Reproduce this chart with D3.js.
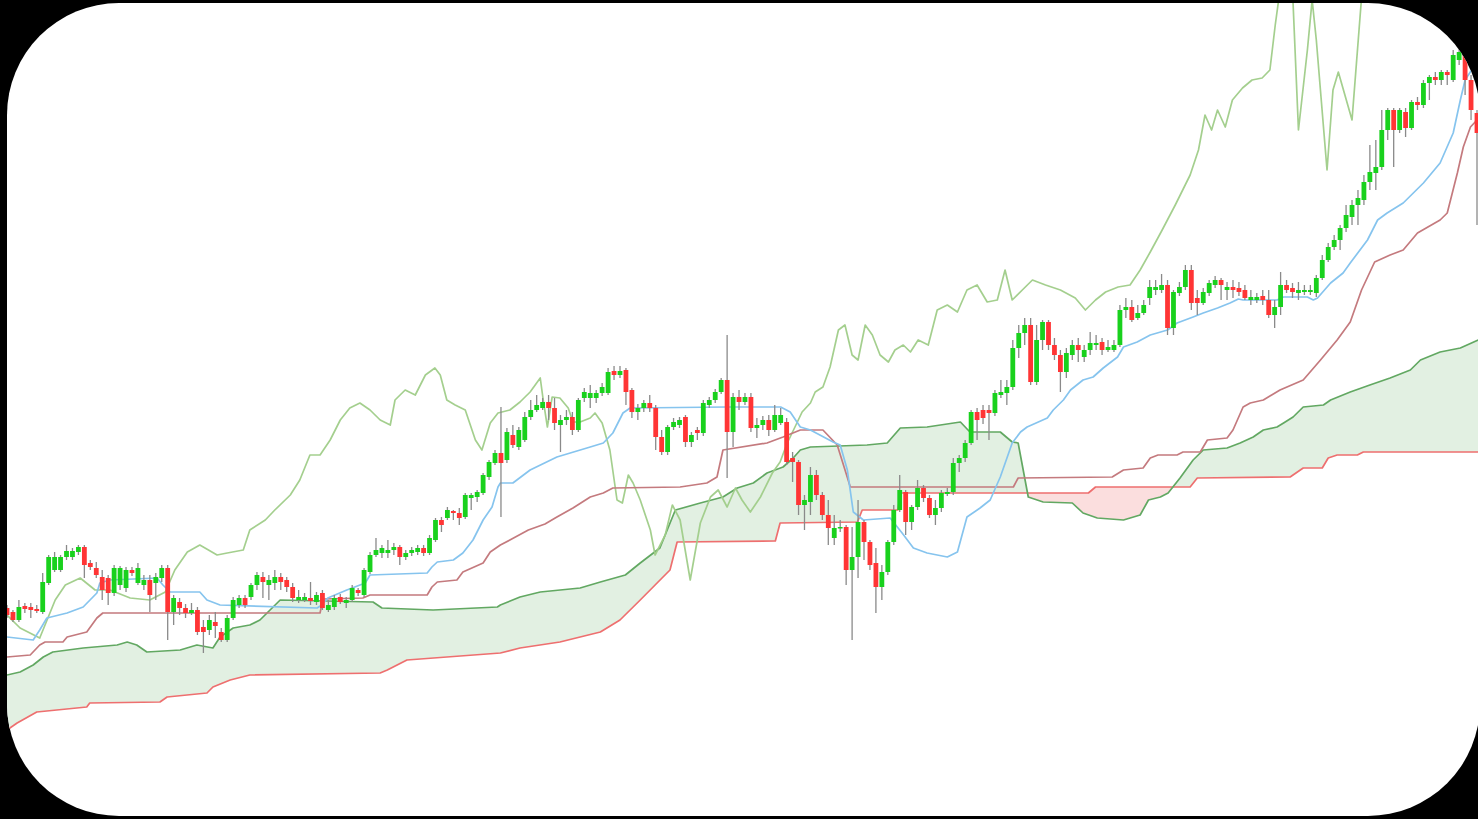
<!DOCTYPE html>
<html><head><meta charset="utf-8">
<script src="https://cdn.jsdelivr.net/npm/d3@7"></script>
<style>html,body{margin:0;padding:0;background:#000;overflow:hidden}</style>
</head><body>
<svg id="chart" width="1478" height="819"></svg>
<script>
// ---- candle data (price units) ----
const openP = [
192,188,180,194,193,191,188,217,230,230,
243,243,248,253,237,232,223,222,207,215,
212,230,217,215,220,217,222,232,188,198,
192,187,190,173,170,178,168,160,182,195,
202,203,215,223,215,217,223,220,213,200,
200,202,198,207,190,193,203,197,200,210,
205,228,245,247,247,250,253,243,247,248,
252,247,260,280,282,289,287,283,302,303,
307,323,337,347,340,365,353,360,383,390,
392,398,392,375,380,383,370,402,402,402,
407,407,429,425,430,410,388,392,397,392,
363,348,373,375,383,358,370,367,395,400,
408,420,368,403,398,403,372,375,380,370,
377,378,342,338,295,298,325,305,285,262,
272,273,230,243,278,258,237,213,228,258,
290,308,278,293,312,302,285,292,306,308,
337,342,357,388,390,390,387,405,407,413,
452,467,475,418,460,478,455,445,428,445,
455,443,450,455,458,450,450,455,490,493,
482,487,502,510,510,515,472,507,513,530,
502,497,507,515,520,510,513,512,510,500,
500,504,500,485,493,515,512,507,508,508,
507,522,540,553,560,572,583,595,600,618,
627,633,670,690,670,688,672,698,695,717,
723,720,728,720,740,745,720,687];
const closeP = [
185,180,193,191,190,189,218,243,243,243,
249,249,253,235,233,225,210,207,232,232,
230,227,232,220,205,223,232,188,202,192,
187,190,168,168,180,174,160,182,200,202,
195,215,225,218,220,223,218,213,202,203,
203,199,205,192,195,202,198,200,212,207,
230,245,250,252,250,253,243,247,250,252,
247,262,280,275,290,287,282,305,305,308,
325,338,347,337,368,355,370,383,390,395,
398,392,377,380,383,370,400,408,407,407,
413,428,425,429,408,388,392,397,392,363,
348,373,378,380,358,365,367,397,400,408,
420,368,403,398,403,372,375,380,370,385,
385,338,338,295,300,325,305,285,272,272,
273,230,243,278,258,235,213,228,258,290,
310,278,293,312,302,285,292,307,308,337,
342,357,388,380,382,387,407,408,413,452,
467,475,418,460,478,455,445,428,447,455,
450,450,457,457,450,453,455,490,493,480,
487,495,513,513,515,472,508,513,530,497,
497,508,517,520,515,513,510,508,502,503,
503,500,485,493,515,510,508,510,510,510,
522,540,553,560,572,585,595,602,618,628,
633,670,690,670,690,672,698,695,717,723,
720,728,725,745,748,720,690,667];
const highP = [
195,190,200,197,197,195,227,245,248,245,
255,252,255,255,240,238,230,225,235,234,
233,233,237,225,225,227,235,235,205,202,
196,197,193,180,185,188,172,185,203,205,
205,217,228,228,225,230,227,223,217,210,
207,218,208,210,200,205,206,203,215,212,
232,248,262,255,260,257,255,250,253,255,
255,265,282,283,293,290,292,307,307,310,
327,340,350,393,372,375,373,388,400,405,
402,405,402,385,390,388,402,412,415,410,
417,432,434,434,432,412,396,400,405,395,
370,375,382,383,385,368,373,400,403,411,
422,465,407,410,407,407,382,384,385,395,
392,382,348,340,305,333,330,308,300,285,
280,275,273,300,280,260,252,235,260,295,
325,310,295,320,315,305,300,310,312,342,
345,360,390,392,395,395,410,420,420,460,
475,482,482,475,480,480,462,450,452,460,
462,455,468,465,462,460,460,495,502,500,
495,500,520,520,526,520,510,518,535,535,
510,512,520,524,522,518,520,518,515,510,
507,510,510,500,528,520,517,518,515,515,
525,545,557,565,575,595,600,610,625,655,
660,690,692,692,692,692,700,703,720,725,
728,730,730,750,755,750,725,690];
const lowP = [
182,178,178,187,182,187,186,215,228,228,
240,240,245,222,230,222,200,195,204,210,
208,224,215,210,188,200,218,160,175,185,
182,185,165,147,165,162,158,158,180,192,
192,200,210,202,200,210,210,208,198,197,
198,195,195,190,188,190,196,192,198,204,
203,226,243,242,242,245,235,240,244,245,
244,245,258,268,280,280,275,281,290,298,
305,320,335,283,337,352,350,358,380,388,
390,380,370,348,375,365,368,398,392,397,
404,405,420,422,395,382,380,388,388,350,
345,345,370,372,353,353,360,364,392,397,
406,322,353,390,395,368,362,370,364,368,
375,335,318,285,270,285,300,280,255,255,
268,215,160,222,240,230,187,200,225,255,
288,265,270,290,298,282,275,288,304,305,
328,338,355,360,376,360,384,402,395,410,
442,455,415,415,450,450,440,408,422,440,
438,438,445,450,445,448,448,453,482,478,
480,485,495,505,507,465,465,504,510,490,
485,495,504,512,500,500,502,504,500,495,
497,495,482,472,485,507,502,500,505,505,
503,520,538,550,550,568,575,575,595,610,
610,630,660,633,667,663,670,690,692,700,
715,715,715,718,735,705,680,575];

// ---- Ichimoku lines: [bar index, price] ----
const tenkan = [[0,163],[4.4,160],[5.5,170],[6.7,182],[10.1,187],[12.8,193],[15.1,207],[15.6,217],[17.3,220],[25.2,222],[26.2,215],[27.4,208],[32.4,208],[33.6,200],[35.8,195],[52.1,192],[52.9,195],[53.9,202],[57.1,210],[60.2,217],[61,225],[70.6,227],[71.4,233],[72.3,238],[75,240],[76.6,247],[78.3,260],[80,280],[81.5,293],[82.5,313],[82.9,317],[85,317],[87.9,330],[92.4,343],[98,353],[100.2,357],[101.8,367],[103.5,387],[104.7,392],[121,393],[130,393],[131.6,388],[133.3,373],[135,370],[138.8,358],[140,355],[141.2,330],[142.2,288],[143.9,280],[148.4,282],[150.4,267],[152.3,252],[154.6,247],[158,243],[159.7,248],[161.3,283],[163.5,292],[165.2,300],[166.9,323],[168.9,357],[170.3,368],[171.4,373],[174.8,382],[175.8,390],[177.5,400],[178.7,410],[180.8,420],[182.5,423],[184.2,432],[186.6,443],[187.6,453],[189.9,458],[192.1,465],[195,470],[196.6,477],[199.3,483],[201,487],[203.4,492],[205.5,497],[206.9,501],[207.7,500],[213.4,500],[214.5,503],[218.5,503],[219.5,500],[220.2,502],[222.4,517],[224.5,527],[225.7,537],[228.6,560],[230.3,580],[231.9,587],[234.6,597],[238,617],[240.8,637],[243,667],[244.2,700],[245,720],[247.2,740]];
const kijun = [[0,143],[3.9,145],[5.5,155],[6.4,158],[9.4,158],[10.1,163],[13.4,168],[15.1,182],[16.1,187],[52.6,187],[53.1,201],[59.8,202],[61,205],[70.6,205],[71.4,213],[72.3,218],[75.6,220],[76.6,228],[80,237],[81.2,248],[82.9,255],[84.5,260],[87.6,270],[90.4,276],[92.4,283],[95.1,292],[98,303],[100.2,307],[101.8,312],[113.1,313],[117.6,317],[119.3,323],[120.3,350],[127.7,357],[130.4,363],[133.3,370],[137.1,370],[139.5,355],[141.7,313],[169.1,313],[169.9,322],[185.7,323],[187.6,330],[190.9,332],[192.1,342],[193.4,345],[196.6,345],[197.6,348],[200.5,348],[201.7,360],[205,362],[206,370],[207.7,393],[208.9,397],[211.1,400],[213.9,410],[217.8,420],[220.7,440],[223.5,460],[225.7,478],[227.6,510],[229.8,538],[232.4,545],[234.6,550],[237,567],[240.8,580],[242,587],[243.7,627],[244.7,653],[245.9,673],[247,680]];
const senkouA = [[0,125],[2.2,128],[4.4,135],[6.1,143],[7.7,148],[12.8,152],[18.5,155],[20.2,158],[21.8,155],[23.5,148],[29.1,150],[31.9,155],[34.6,152],[35.8,163],[38,172],[40.8,175],[42.5,180],[45.9,200],[61.5,198],[63,192],[71.6,190],[82.4,193],[82.9,195],[86.2,203],[89.6,208],[96.3,212],[99.7,218],[103.9,225],[106.4,237],[109.7,252],[112.3,290],[116.5,297],[120.3,303],[122.7,312],[125.4,317],[127.7,327],[130.4,333],[132.1,342],[133.3,350],[135,353],[144.5,355],[147.9,357],[150.1,372],[154.6,373],[160.2,378],[161.8,368],[166.9,368],[168.9,358],[169.9,357],[171.6,303],[174.1,298],[179,297],[180.8,287],[183.2,282],[187.6,280],[190.4,285],[191.8,300],[193.8,303],[195.1,307],[197.1,322],[199.3,340],[201,350],[205,352],[207.2,357],[209.4,363],[211.1,370],[213.4,373],[214.5,377],[216.1,383],[217.8,393],[221.2,395],[222.4,400],[225.7,408],[229,415],[232.4,422],[235.8,430],[237.5,440],[240.8,448],[244.2,452],[247.2,460]];
const senkouB = [[0,70],[1.7,77],[5,88],[13.4,93],[13.9,97],[25.7,98],[26.9,103],[33.6,107],[34.6,113],[37.5,120],[40.8,125],[62.7,127],[63.9,130],[67.2,140],[82.9,147],[86.2,152],[92.9,158],[99.7,168],[103,180],[106.4,200],[108.9,215],[111.4,230],[112.6,258],[129.1,259],[129.9,277],[142.9,278],[143.7,290],[149.7,290],[150.1,307],[181.7,307],[182.9,313],[198.8,313],[200,322],[215.6,323],[217.8,332],[221,332],[222,342],[223.5,345],[226.9,345],[227.9,348],[247.2,348]];
const chikou = [[0,185],[2.2,172],[5.5,162],[8.1,200],[9.8,215],[12.3,222],[14.8,210],[17.3,210],[20.7,202],[24,200],[26.6,208],[28.2,230],[30.3,248],[32.4,255],[35.3,245],[37,247],[39.7,250],[40.8,270],[43.4,280],[45,290],[47.6,305],[49.2,320],[50.9,345],[52.6,345],[54.3,360],[56,380],[57.6,392],[59.3,397],[61,390],[62.7,380],[64.4,375],[65.2,400],[66.9,410],[68.6,405],[70.3,425],[71.9,432],[72.8,425],[73.9,400],[75.3,395],[77,390],[78.7,360],[79.8,350],[81.2,377],[82.5,387],[84.5,390],[86.2,398],[87.9,408],[89.6,422],[90.1,400],[90.8,373],[91.6,403],[92.9,402],[94.3,392],[95.1,378],[96.3,378],[98,382],[98.8,387],[100,377],[101.3,350],[102.5,300],[103.4,297],[104.4,325],[105.2,317],[106.4,300],[108.1,270],[108.9,245],[110.6,265],[111.8,295],[113.1,280],[114.8,220],[116.5,277],[118.2,303],[119.5,310],[121,293],[122.4,312],[123.5,300],[124.9,288],[126.6,303],[128.6,327],[129.9,338],[131.1,357],[132.4,373],[133.6,388],[135,397],[135.8,408],[137.1,413],[138.3,433],[139.7,470],[140.8,475],[142,445],[143,440],[144.2,475],[145.4,465],[146.7,445],[148.1,438],[149.2,450],[150.6,455],[151.8,448],[153.1,460],[154.8,455],[156.3,490],[158,495],[159.7,488],[161.3,510],[163,515],[164.7,498],[166.4,500],[167.7,530],[168.9,500],[170.6,510],[172.3,520],[174.5,515],[177,510],[179.5,502],[181.2,490],[182.9,500],[184.6,508],[186.7,513],[188.7,515],[190.4,530],[192.1,548],[194.1,570],[196.3,595],[198.8,625],[200.2,650],[201.3,685],[202.4,670],[203.4,690],[204.7,673],[205.9,700],[207.6,712],[209.2,720],[210.9,722],[212.2,730],[213.1,775],[213.9,810],[216,810],[217,670],[218.5,750],[219.3,800],[220,760],[221.8,630],[222.8,710],[223.7,728],[226,680],[227.7,810]];

// ---- drawing ----
const W = 1478, H = 819;
const card = {x:7, y:3, w:1473, h:813, r:112};
const svg = d3.select('#chart');
svg.append('rect').attr('width', W).attr('height', H).attr('fill', '#000');
const defs = svg.append('defs');
defs.append('clipPath').attr('id','cardClip').append('rect')
  .attr('x', card.x).attr('y', card.y).attr('width', card.w).attr('height', card.h)
  .attr('rx', card.r).attr('ry', card.r);
svg.append('rect').attr('x', card.x).attr('y', card.y).attr('width', card.w).attr('height', card.h)
  .attr('rx', card.r).attr('ry', card.r).attr('fill', '#fff');

const n = openP.length;
const x = d3.scaleLinear().domain([0, n - 1]).range([7, 1477]);
const y = d3.scaleLinear().domain([0, 800]).range([800, 0]);

const g = svg.append('g').attr('clip-path', 'url(#cardClip)');

// cloud
const fA = d3.scaleLinear().domain(senkouA.map(d => d[0])).range(senkouA.map(d => d[1])).clamp(true);
const fB = d3.scaleLinear().domain(senkouB.map(d => d[0])).range(senkouB.map(d => d[1])).clamp(true);
const samples = d3.range(0, 247.21, 0.1);
const greenArea = d3.area().x(s => x(s)).y0(s => y(fB(s))).y1(s => y(Math.max(fA(s), fB(s))));
const redArea = d3.area().x(s => x(s)).y0(s => y(fA(s))).y1(s => y(Math.max(fA(s), fB(s))));
g.append('path').attr('d', greenArea(samples)).attr('fill', '#e2f0e2');
g.append('path').attr('d', redArea(samples)).attr('fill', '#fbdede');

const line = d3.line().x(d => x(d[0])).y(d => y(d[1]));
function drawLine(data, color, w, op) {
  g.append('path').attr('d', line(data)).attr('fill', 'none')
    .attr('stroke', color).attr('stroke-width', w).attr('stroke-opacity', op)
    .attr('stroke-linejoin', 'round');
}
drawLine(senkouB, '#ee6f6f', 1.7, 1);
drawLine(senkouA, '#62a862', 1.7, 1);
drawLine(chikou, '#9fcc88', 1.7, 0.95);
drawLine(kijun, '#c47a7e', 1.7, 1);
drawLine(tenkan, '#86c4ee', 1.7, 1);

// candles
const idx = d3.range(n);
const bw = 4.8;
g.append('g').selectAll('line').data(idx).join('line')
  .attr('x1', i => x(i)).attr('x2', i => x(i))
  .attr('y1', i => y(Math.max(highP[i], openP[i], closeP[i])))
  .attr('y2', i => y(Math.min(lowP[i], openP[i], closeP[i])))
  .attr('stroke', '#8a8a8a').attr('stroke-width', 1.3);
g.append('g').selectAll('rect').data(idx).join('rect')
  .attr('x', i => x(i) - bw / 2).attr('width', bw)
  .attr('y', i => y(Math.max(openP[i], closeP[i])))
  .attr('height', i => Math.max(1.5, Math.abs(y(openP[i]) - y(closeP[i]))))
  .attr('fill', i => closeP[i] >= openP[i] ? '#19d11d' : '#ff3535');
</script>
</body></html>
